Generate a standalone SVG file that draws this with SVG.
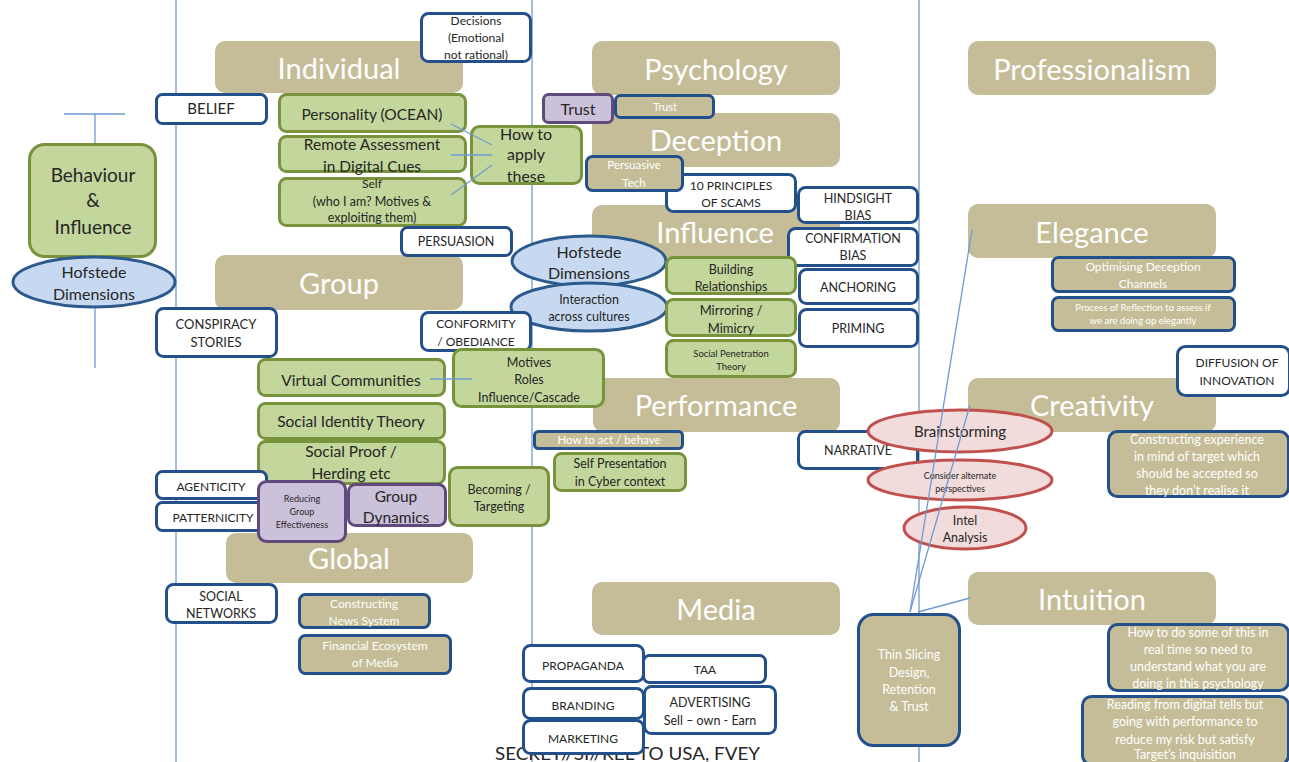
<svg xmlns="http://www.w3.org/2000/svg" width="1289" height="762" viewBox="0 0 1289 762">
<style>
text{font-family:Lato,"Liberation Sans",sans-serif;text-anchor:middle}
.h{font-size:29px;fill:#fff}
.d{fill:#262626}
.w{fill:#fff}
.tan{fill:#c4bd97}
.tb{fill:#c4bd97;stroke:#23508a;stroke-width:3}
.wb{fill:#fff;stroke:#23508a;stroke-width:3}
.gb{fill:#c3d69b;stroke:#77933c;stroke-width:3}
.pb{fill:#ccc1da;stroke:#604a7b;stroke-width:3}
.be{fill:#c6d9f1;stroke:#2c5a8c;stroke-width:3}
.re{fill:#f2dcdb;stroke:#c0504d;stroke-width:3}
.ln{stroke:#6f9ad3;stroke-width:1.3;fill:none}
</style>
<rect width="1289" height="762" fill="#fff"/>
<g id="columns" class="ln">
<line x1="176" y1="0" x2="176" y2="762"/>
<line x1="532" y1="0" x2="532" y2="762"/>
<line x1="919" y1="0" x2="919" y2="762"/>
</g>
<text x="495" y="760" font-size="18" class="d" style="text-anchor:start" textLength="265" lengthAdjust="spacingAndGlyphs">SECRET//SI//REL TO USA, FVEY</text>

<!-- headings -->
<g id="individual"><rect class="tan" x="215" y="41" width="248" height="52" rx="10"/><text class="h" x="339" y="79">Individual</text></g>
<g id="group"><rect class="tan" x="215" y="255" width="248" height="55" rx="10"/><text class="h" x="339" y="294">Group</text></g>
<g id="global"><rect class="tan" x="226" y="533" width="247" height="50" rx="10"/><text class="h" x="349" y="569">Global</text></g>
<g id="psychology"><rect class="tan" x="592" y="41" width="248" height="54" rx="10"/><text class="h" x="716" y="80">Psychology</text></g>
<g id="deception"><rect class="tan" x="592" y="113" width="248" height="54" rx="10"/><text class="h" x="716" y="151">Deception</text></g>
<g id="influence"><rect class="tan" x="592" y="205" width="248" height="54" rx="10"/><text class="h" x="715" y="243">Influence</text></g>
<g id="performance"><rect class="tan" x="593" y="378" width="247" height="54" rx="10"/><text class="h" x="716" y="416">Performance</text></g>
<g id="media"><rect class="tan" x="592" y="582" width="248" height="53" rx="10"/><text class="h" x="716" y="620">Media</text></g>
<g id="professionalism"><rect class="tan" x="968" y="41" width="248" height="54" rx="10"/><text class="h" x="1092" y="80">Professionalism</text></g>
<g id="elegance"><rect class="tan" x="968" y="204" width="248" height="54" rx="10"/><text class="h" x="1092" y="243">Elegance</text></g>
<g id="creativity"><rect class="tan" x="968" y="378" width="248" height="54" rx="10"/><text class="h" x="1092" y="416">Creativity</text></g>
<g id="intuition"><rect class="tan" x="968" y="572" width="248" height="53" rx="10"/><text class="h" x="1092" y="610">Intuition</text></g>

<!-- left -->
<g id="behaviour"><rect class="gb" x="29.5" y="144.5" width="126" height="112" rx="15"/>
<text class="d" font-size="19" x="93" y="182">Behaviour</text><text class="d" font-size="19" x="93" y="207">&amp;</text><text class="d" font-size="19" x="93" y="234">Influence</text></g>
<g id="hofstede-left"><ellipse class="be" cx="94" cy="282" rx="81" ry="25"/>
<text class="d" font-size="16" x="94" y="277.5">Hofstede</text><text class="d" font-size="16" x="94" y="299.5">Dimensions</text></g>

<g id="decisions"><rect class="wb" x="421.5" y="13.5" width="109" height="48" rx="7"/>
<text class="d" font-size="12" x="476" y="25">Decisions</text><text class="d" font-size="12" x="476" y="42">(Emotional</text><text class="d" font-size="12" x="476" y="59">not rational)</text></g>
<g id="belief"><rect class="wb" x="156.5" y="94.5" width="110" height="29" rx="6"/><text class="d" font-size="15" x="211" y="114">BELIEF</text></g>

<g id="personality"><rect class="gb" x="279.5" y="94.5" width="186" height="37" rx="7"/><text class="d" font-size="15.5" x="372" y="119.5">Personality (OCEAN)</text></g>
<g id="remote"><rect class="gb" x="279.5" y="136.5" width="186" height="35" rx="7"/><text class="d" font-size="15.5" x="372" y="149.5">Remote Assessment</text><text class="d" font-size="15.5" x="372" y="171.5">in Digital Cues</text></g>
<g id="self"><rect class="gb" x="279.5" y="178.5" width="186" height="47" rx="7"/>
<text class="d" font-size="12" x="372" y="188">Self</text><text class="d" font-size="12.5" x="372" y="205.5">(who I am? Motives &amp;</text><text class="d" font-size="12.5" x="372" y="221.5">exploiting them)</text></g>
<g id="howto"><rect class="gb" x="471.5" y="126.5" width="110" height="57" rx="8"/>
<text class="d" font-size="16" x="526" y="139.5">How to</text><text class="d" font-size="16" x="526" y="160">apply</text><text class="d" font-size="16" x="526" y="181.5">these</text></g>

<g id="trust-p"><rect class="pb" x="543.5" y="94.5" width="69" height="28" rx="5"/><text class="d" font-size="16" x="578" y="114.5">Trust</text></g>
<g id="trust-t"><rect class="tb" x="615.5" y="95.5" width="98" height="22" rx="5"/><text class="w" font-size="11" x="665" y="111">Trust</text></g>
<g id="principles"><rect class="wb" x="666.5" y="174.5" width="129" height="37" rx="7"/>
<text class="d" font-size="12" x="731" y="189.5">10 PRINCIPLES</text><text class="d" font-size="12" x="731" y="206.5">OF SCAMS</text></g>
<g id="persuasive"><rect class="tb" x="586.5" y="156.5" width="96" height="34" rx="6"/>
<text class="w" font-size="11.5" x="634" y="169">Persuasive</text><text class="w" font-size="11.5" x="634" y="187">Tech</text></g>
<g id="hindsight"><rect class="wb" x="798.5" y="187.5" width="119" height="35" rx="7"/>
<text class="d" font-size="12.5" x="858" y="202.5">HINDSIGHT</text><text class="d" font-size="12.5" x="858" y="219.5">BIAS</text></g>
<g id="confirmation"><rect class="wb" x="788.5" y="228.5" width="129" height="37" rx="7"/>
<text class="d" font-size="12.5" x="853" y="242.5">CONFIRMATION</text><text class="d" font-size="12.5" x="853" y="259.5">BIAS</text></g>
<g id="anchoring"><rect class="wb" x="799.5" y="269.5" width="118" height="34" rx="7"/><text class="d" font-size="12.5" x="858" y="291.5">ANCHORING</text></g>
<g id="priming"><rect class="wb" x="799.5" y="309.5" width="118" height="37" rx="7"/><text class="d" font-size="12.5" x="858" y="332.5">PRIMING</text></g>
<g id="persuasion"><rect class="wb" x="401.5" y="227.5" width="110" height="28" rx="6"/><text class="d" font-size="12.5" x="456" y="245.5">PERSUASION</text></g>

<g id="hofstede-mid"><ellipse class="be" cx="589" cy="261" rx="77" ry="25"/>
<text class="d" font-size="16" x="589" y="257.5">Hofstede</text><text class="d" font-size="16" x="589" y="278.5">Dimensions</text></g>
<g id="interaction"><ellipse class="be" cx="589" cy="307" rx="78" ry="24"/>
<text class="d" font-size="12.5" x="589" y="303.5">Interaction</text><text class="d" font-size="12.5" x="589" y="320.5">across cultures</text></g>
<g id="building"><rect class="gb" x="666.5" y="257.5" width="129" height="36" rx="7"/>
<text class="d" font-size="12.5" x="731" y="273.5">Building</text><text class="d" font-size="12.5" x="731" y="290.5">Relationships</text></g>
<g id="mirroring"><rect class="gb" x="666.5" y="299.5" width="129" height="36" rx="7"/>
<text class="d" font-size="13" x="731" y="314.5">Mirroring /</text><text class="d" font-size="13" x="731" y="332.5">Mimicry</text></g>
<g id="penetration"><rect class="gb" x="666.5" y="340.5" width="129" height="36" rx="7"/>
<text class="d" font-size="9.5" x="731" y="356.5">Social Penetration</text><text class="d" font-size="9.5" x="731" y="369.5">Theory</text></g>

<g id="conspiracy"><rect class="wb" x="156.5" y="308.5" width="120" height="48" rx="7"/>
<text class="d" font-size="13" x="216" y="328.5">CONSPIRACY</text><text class="d" font-size="13" x="216" y="346.5">STORIES</text></g>
<g id="conformity"><rect class="wb" x="421.5" y="312.5" width="109" height="38" rx="7"/>
<text class="d" font-size="12" x="476" y="327.5">CONFORMITY</text><text class="d" font-size="12" x="476" y="345.5">/ OBEDIANCE</text></g>
<g id="virtual"><rect class="gb" x="258.5" y="359.5" width="186" height="36" rx="7"/><text class="d" font-size="15.5" x="351" y="385.5">Virtual Communities</text></g>
<g id="motives"><rect class="gb" x="453.5" y="349.5" width="150" height="57" rx="8"/>
<text class="d" font-size="12.5" x="529" y="366.5">Motives</text><text class="d" font-size="12.5" x="529" y="383.5">Roles</text><text class="d" font-size="12.5" x="529" y="401.5">Influence/Cascade</text></g>
<g id="identity"><rect class="gb" x="258.5" y="403.5" width="186" height="35" rx="7"/><text class="d" font-size="15.5" x="351" y="426.5">Social Identity Theory</text></g>
<g id="proof"><rect class="gb" x="258.5" y="441.5" width="186" height="42" rx="7"/>
<text class="d" font-size="15.5" x="351" y="456.5">Social Proof /</text><text class="d" font-size="15.5" x="351" y="478.5">Herding etc</text></g>
<g id="becoming"><rect class="gb" x="449.5" y="467.5" width="99" height="58" rx="8"/>
<text class="d" font-size="12.5" x="499" y="493.5">Becoming /</text><text class="d" font-size="12.5" x="499" y="510.5">Targeting</text></g>
<g id="howtoact"><rect class="tb" x="534.5" y="431.5" width="148" height="17" rx="4"/><text class="w" font-size="11.5" x="609" y="444">How to act / behave</text></g>
<g id="selfpres"><rect class="gb" x="554.5" y="453.5" width="131" height="37" rx="7"/>
<text class="d" font-size="12.5" x="620" y="467.5">Self Presentation</text><text class="d" font-size="12.5" x="620" y="485.5">in Cyber context</text></g>

<g id="agenticity"><rect class="wb" x="156.5" y="471.5" width="110" height="27" rx="6"/><text class="d" font-size="12" x="211" y="490.5">AGENTICITY</text></g>
<g id="patternicity"><rect class="wb" x="156.5" y="502.5" width="110" height="28" rx="6"/><text class="d" font-size="12" x="213" y="521.5">PATTERNICITY</text></g>
<g id="reducing"><rect class="pb" x="258.5" y="481.5" width="87" height="60" rx="8"/>
<text class="d" font-size="9" x="302" y="502">Reducing</text><text class="d" font-size="9" x="302" y="515">Group</text><text class="d" font-size="9" x="302" y="528">Effectiveness</text></g>
<g id="dynamics"><rect class="pb" x="348.5" y="484.5" width="97" height="41" rx="7"/>
<text class="d" font-size="15.5" x="396" y="501.5">Group</text><text class="d" font-size="15.5" x="396" y="522.5">Dynamics</text></g>

<g id="social-networks"><rect class="wb" x="166.5" y="584.5" width="110" height="38" rx="7"/>
<text class="d" font-size="12.5" x="221" y="600.5">SOCIAL</text><text class="d" font-size="12.5" x="221" y="617.5">NETWORKS</text></g>
<g id="news"><rect class="tb" x="299.5" y="594.5" width="130" height="33" rx="6"/>
<text class="w" font-size="12" x="364" y="608">Constructing</text><text class="w" font-size="12" x="364" y="625">News System</text></g>
<g id="financial"><rect class="tb" x="299.5" y="635.5" width="151" height="38" rx="6"/>
<text class="w" font-size="12" x="375" y="650">Financial Ecosystem</text><text class="w" font-size="12" x="375" y="667">of Media</text></g>

<g id="propaganda"><rect class="wb" x="523.5" y="645.5" width="120" height="36" rx="7"/><text class="d" font-size="12" x="583" y="669.5">PROPAGANDA</text></g>
<g id="taa"><rect class="wb" x="643.5" y="655.5" width="122" height="27" rx="6"/><text class="d" font-size="12" x="705" y="673.5">TAA</text></g>
<g id="branding"><rect class="wb" x="523.5" y="688.5" width="120" height="30" rx="7"/><text class="d" font-size="12" x="583" y="709.5">BRANDING</text></g>
<g id="advertising"><rect class="wb" x="644.5" y="686.5" width="131" height="47" rx="7"/>
<text class="d" font-size="12.5" x="710" y="706.5">ADVERTISING</text><text class="d" font-size="12.5" x="710" y="724.5">Sell – own - Earn</text></g>
<g id="marketing"><rect class="wb" x="523.5" y="720.5" width="120" height="33" rx="7"/><text class="d" font-size="12" x="583" y="742.5">MARKETING</text></g>

<g id="narrative"><rect class="wb" x="798.5" y="431.5" width="119" height="37" rx="7"/><text class="d" font-size="12.5" x="858" y="454.5">NARRATIVE</text></g>
<g id="brainstorming"><ellipse class="re" cx="960" cy="431" rx="92" ry="21"/><text class="d" font-size="15" x="960" y="436.5">Brainstorming</text></g>
<g id="consider"><ellipse class="re" cx="960" cy="480" rx="92" ry="20"/>
<text class="d" font-size="9" x="960" y="479">Consider alternate</text><text class="d" font-size="9" x="960" y="492">perspectives</text></g>
<g id="intel"><ellipse class="re" cx="965" cy="528" rx="61" ry="21"/>
<text class="d" font-size="12.5" x="965" y="524.5">Intel</text><text class="d" font-size="12.5" x="965" y="541.5">Analysis</text></g>
<g id="thin"><rect class="tb" x="858.5" y="614.5" width="101" height="131" rx="15"/>
<text class="w" font-size="12.5" x="909" y="658.5">Thin Slicing</text><text class="w" font-size="12.5" x="909" y="676.5">Design,</text><text class="w" font-size="12.5" x="909" y="693.5">Retention</text><text class="w" font-size="12.5" x="909" y="710.5">&amp; Trust</text></g>

<g id="optimising"><rect class="tb" x="1052.5" y="257.5" width="182" height="34" rx="6"/>
<text class="w" font-size="12" x="1143" y="271">Optimising Deception</text><text class="w" font-size="12" x="1143" y="288">Channels</text></g>
<g id="reflection"><rect class="tb" x="1052.5" y="297.5" width="182" height="33" rx="6"/>
<text class="w" font-size="9.5" x="1143" y="310.5">Process of Reflection to assess if</text><text class="w" font-size="9.5" x="1143" y="323.5">we are doing op elegantly</text></g>
<g id="diffusion"><rect class="wb" x="1177.5" y="346.5" width="112" height="49" rx="8"/>
<text class="d" font-size="12" x="1237" y="366.5">DIFFUSION OF</text><text class="d" font-size="12" x="1237" y="384.5">INNOVATION</text></g>
<g id="experience"><rect class="tb" x="1108.5" y="431.5" width="180" height="65" rx="9"/>
<text class="w" font-size="12.5" x="1197" y="443.5">Constructing experience</text><text class="w" font-size="12.5" x="1197" y="460.5">in mind of target which</text><text class="w" font-size="12.5" x="1197" y="477.5">should be accepted so</text><text class="w" font-size="12.5" x="1197" y="494.5">they don’t realise it</text></g>
<g id="realtime"><rect class="tb" x="1108.5" y="624.5" width="180" height="66" rx="9"/>
<text class="w" font-size="12.5" x="1198" y="636.5">How to do some of this in</text><text class="w" font-size="12.5" x="1198" y="653.5">real time so need to</text><text class="w" font-size="12.5" x="1198" y="670.5">understand what you are</text><text class="w" font-size="12.5" x="1198" y="687.5">doing in this psychology</text></g>
<g id="reading"><rect class="tb" x="1082.5" y="696.5" width="206" height="68" rx="9"/>
<text class="w" font-size="12.5" x="1185" y="708.5">Reading from digital tells but</text><text class="w" font-size="12.5" x="1185" y="725.5">going with performance to</text><text class="w" font-size="12.5" x="1185" y="743.5">reduce my risk but satisfy</text><text class="w" font-size="12.5" x="1185" y="759">Target’s inquisition</text></g>

<g id="connectors" class="ln">
<line x1="64" y1="114" x2="125" y2="114"/>
<line x1="95" y1="114" x2="95" y2="143"/>
<line x1="95" y1="308" x2="95" y2="368"/>
<line x1="451" y1="124" x2="492" y2="145"/>
<line x1="451" y1="155" x2="492" y2="155"/>
<line x1="451" y1="195" x2="492" y2="165"/>
<line x1="430" y1="379" x2="472" y2="379"/>
<line x1="910" y1="612" x2="972" y2="230"/>
<line x1="910" y1="612" x2="970" y2="405"/>
<line x1="918" y1="612" x2="970" y2="598"/>
</g>
</svg>
